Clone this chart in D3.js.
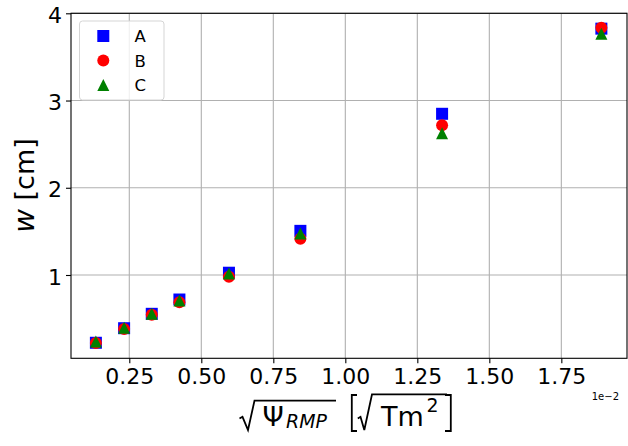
<!DOCTYPE html>
<html>
<head>
<meta charset="utf-8">
<script src="https://cdn.jsdelivr.net/npm/d3@7"></script>
<style>
  html, body { margin: 0; padding: 0; background: #fff; }
  svg { display: block; font-family: "DejaVu Sans", sans-serif; }
</style>
</head>
<body>
<svg id="chart" width="628" height="446"></svg>
<script>
// sqrt(Psi_RMP) in units of 1e-2 sqrt(T m^2)
const xValues = [0.134, 0.232, 0.328, 0.424, 0.596, 0.844, 1.336, 1.889];
// island width w [cm] for each case
const seriesA = [0.223, 0.390, 0.555, 0.719, 1.026, 1.506, 2.848, 3.824];
const seriesB = [0.220, 0.382, 0.545, 0.687, 0.980, 1.416, 2.716, 3.835];
const seriesC = [0.238, 0.394, 0.555, 0.707, 1.017, 1.475, 2.625, 3.766];
const seriesNames = ["A", "B", "C"];
const xTicks = [0.25, 0.50, 0.75, 1.00, 1.25, 1.50, 1.75];
const yTicks = [1, 2, 3, 4];

const svg = d3.select("#chart");
const plot = { left: 71, right: 627, top: 13.3, bottom: 358.3 };

const x = d3.scaleLinear().domain([0.0476, 1.978]).range([plot.left, plot.right]);
const y = d3.scaleLinear().domain([0.045, 4.0]).range([plot.bottom, plot.top]);

// grid
const grid = svg.append("g");
grid.selectAll("line.gx").data(xTicks).join("line")
  .attr("x1", d => x(d)).attr("x2", d => x(d))
  .attr("y1", plot.top).attr("y2", plot.bottom)
  .attr("stroke", "#b0b0b0").attr("stroke-width", 1.1);
grid.selectAll("line.gy").data(yTicks).join("line")
  .attr("x1", plot.left).attr("x2", plot.right)
  .attr("y1", d => y(d)).attr("y2", d => y(d))
  .attr("stroke", "#b0b0b0").attr("stroke-width", 1.1);

// axes
const xAxis = svg.append("g")
  .attr("transform", `translate(0,${plot.bottom})`)
  .call(d3.axisBottom(x).tickValues(xTicks).tickFormat(d3.format(".2f")).tickSize(5).tickPadding(5.4));
const yAxis = svg.append("g")
  .attr("transform", `translate(${plot.left},0)`)
  .call(d3.axisLeft(y).tickValues(yTicks).tickFormat(d3.format("d")).tickSize(5).tickPadding(4));
[xAxis, yAxis].forEach(g => {
  g.select(".domain").remove();
  g.selectAll(".tick line").attr("stroke", "#000").attr("stroke-width", 1.1);
  g.selectAll(".tick text").attr("fill", "#000")
    .style("font-family", "DejaVu Sans").style("font-size", "22px");
});
yAxis.selectAll(".tick text").attr("dy", "0.41em");

// spines
svg.append("rect")
  .attr("x", plot.left).attr("y", plot.top)
  .attr("width", plot.right - plot.left).attr("height", plot.bottom - plot.top)
  .attr("fill", "none").attr("stroke", "#000").attr("stroke-width", 1.1);

// markers
const S = 12;
const markers = {
  A: (g, cx, cy) => g.append("rect").attr("x", cx - S / 2).attr("y", cy - S / 2)
        .attr("width", S).attr("height", S).attr("fill", "#0000ff"),
  B: (g, cx, cy) => g.append("circle").attr("cx", cx).attr("cy", cy)
        .attr("r", S / 2).attr("fill", "#ff0000"),
  C: (g, cx, cy) => g.append("path")
        .attr("d", `M${cx},${cy - S / 2}L${cx - S / 2},${cy + S / 2}L${cx + S / 2},${cy + S / 2}Z`)
        .attr("fill", "#008000")
};
const allSeries = [seriesA, seriesB, seriesC];
const pts = svg.append("g");
allSeries.forEach((vals, i) => {
  const g = pts.append("g");
  vals.forEach((v, j) => markers[seriesNames[i]](g, x(xValues[j]), y(v)));
});

// legend
const lg = svg.append("g");
lg.append("rect").attr("x", 79.5).attr("y", 21).attr("width", 84.5).attr("height", 79)
  .attr("rx", 3).attr("fill", "#fff").attr("fill-opacity", 0.8)
  .attr("stroke", "#d5d5d5").attr("stroke-width", 1);
seriesNames.forEach((name, i) => {
  const cy = 36 + i * 24.5;
  markers[name](lg, 103.3, cy);
  lg.append("text").attr("x", 134.5).attr("y", cy + 6)
    .style("font-size", "16.5px").attr("fill", "#000").text(name);
});

// offset text
svg.append("text").attr("x", 619).attr("y", 400).attr("text-anchor", "end")
  .style("font-size", "10px").attr("fill", "#000").text("1e\u22122");

// y label
svg.append("text")
  .attr("transform", "translate(33.5,185.5) rotate(-90)")
  .attr("text-anchor", "middle").style("font-size", "27px").attr("fill", "#000")
  .call(t => {
    t.append("tspan").style("font-style", "italic").style("font-size", "29px").text("w");
    t.append("tspan").text(" [cm]");
  });

// x label: sqrt(Psi_RMP) [sqrt(T m^2)]
const xl = svg.append("g").attr("fill", "none").attr("stroke", "#000").attr("stroke-width", 1.8);
const F = 27;
xl.append("path").attr("d", "M239.5,418.5 L242.5,416.8 L248,430 L254.5,400.6 H336");
xl.append("path").attr("d", "M357,395 H351.8 V431 H357");
xl.append("path").attr("d", "M357.8,418.5 L360.5,416.8 L364.3,430 L372,394.3 H447");
xl.append("path").attr("d", "M445,395 H450.8 V431 H445");
const xt = svg.append("g").attr("fill", "#000");
xt.append("text").attr("x", 262.5).attr("y", 425.5).style("font-size", F + "px").text("\u03A8");
xt.append("text").attr("x", 286).attr("y", 428).style("font-size", (F * 0.7) + "px")
  .style("font-style", "italic").text("RMP");
xt.append("text").attr("x", 381).attr("y", 425.5).style("font-size", F + "px").text("Tm");
xt.append("text").attr("x", 426.5).attr("y", 412).style("font-size", (F * 0.7) + "px").text("2");
</script>
</body>
</html>
